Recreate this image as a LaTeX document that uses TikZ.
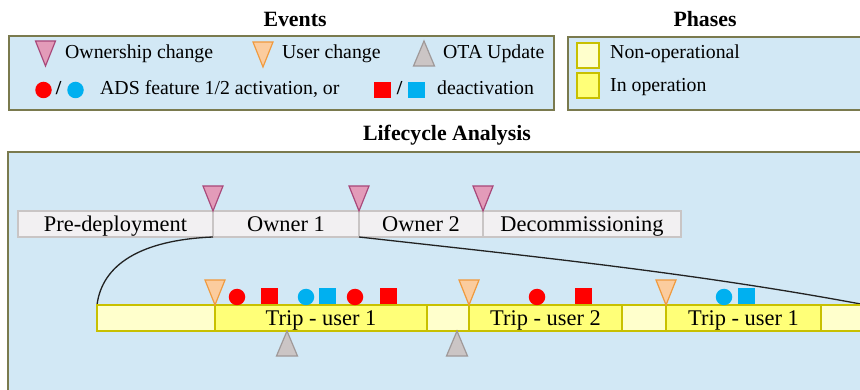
\documentclass[tikz,border=0pt]{standalone}
\usepackage{fontspec}
\setmainfont{Liberation Serif}
\usetikzlibrary{calc}

\definecolor{panelbg}{HTML}{D2E8F5}
\definecolor{panelrule}{HTML}{7A7A4E}
\definecolor{stagefill}{HTML}{F2F0F2}
\definecolor{stagerule}{HTML}{C9C5C5}
\definecolor{tripfill}{HTML}{FFFF78}
\definecolor{idlefill}{HTML}{FFFFCC}
\definecolor{phaserule}{HTML}{C8C000}
\definecolor{ownfill}{HTML}{E39BB9}
\definecolor{ownrule}{HTML}{A8487A}
\definecolor{userfill}{HTML}{FBCC9E}
\definecolor{userrule}{HTML}{F09A3E}
\definecolor{otafill}{HTML}{CBC5C5}
\definecolor{otarule}{HTML}{9F9999}
\definecolor{adsred}{HTML}{FF0000}
\definecolor{adsblue}{HTML}{00B0F0}
\definecolor{linkcol}{HTML}{222222}

\begin{document}
\begin{tikzpicture}[x=1pt, y=-1pt,
  panel/.style={fill=panelbg, draw=panelrule, line width=1.4pt},
  title/.style={font=\fontsize{21.8}{26}\selectfont\bfseries, anchor=base, inner sep=0},
  legendtext/.style={font=\fontsize{19.8}{24}\selectfont, anchor=base west, inner sep=0},
  slash/.style={font=\fontsize{19.8}{24}\selectfont\bfseries, anchor=base, inner sep=0},
  stagebox/.style={draw=stagerule, fill=stagefill, line width=1.5pt, anchor=north west,
    inner sep=0, outer sep=0, minimum height=26, text height=15, text depth=0,
    font=\fontsize{22.4}{26}\selectfont},
  idlebox/.style={stagebox, draw=phaserule, fill=idlefill},
  tripbox/.style={idlebox, fill=tripfill},
  keybox/.style={draw=phaserule, line width=1.8pt, anchor=north west, inner sep=0,
    outer sep=0, minimum width=22, minimum height=25},
  link/.style={draw=linkcol, line width=1.3pt},
  ownerpin/.style={fill=ownfill, draw=ownrule, line width=1.2pt},
  userpin/.style={fill=userfill, draw=userrule, line width=1.2pt},
  otapin/.style={fill=otafill, draw=otarule, line width=1.2pt},
  dotmark/.style={circle, inner sep=0, minimum size=16.5},
  boxmark/.style={rectangle, inner sep=0, minimum width=17, minimum height=16},
  reddot/.style={dotmark, fill=adsred},
  bluedot/.style={dotmark, fill=adsblue},
  redbox/.style={boxmark, fill=adsred},
  bluebox/.style={boxmark, fill=adsblue},
  downtri/.pic={\path[pic actions] (-10,-25) -- (10,-25) -- (0,0) -- cycle;},
  uptri/.pic={\path[pic actions] (-10.5,25) -- (10.5,25) -- (0,0) -- cycle;}
]
\clip (0,0) rectangle (860,390);
\fill[white] (0,0) rectangle (860,390);

% ---------- titles ----------
\node[title] (evtitle) at (295,27) {Events};
\node[title] (phtitle) at (705,27) {Phases};
\node[title] (lctitle) at (447,141) {Lifecycle Analysis};

% ---------- panels ----------
\draw[panel] (9,36) rectangle (554,110);
\draw[panel] (568,37) rectangle (880,110);
\draw[panel] (8,152) rectangle (880,400);

% ---------- events legend ----------
\pic[ownerpin] at (45.5,66) {downtri};
\node[legendtext] (lgown) at (65,59) {Ownership change};
\pic[userpin] at (263,67) {downtri};
\node[legendtext] (lguser) at (282,59) {User change};
\pic[otapin] at (424,41) {uptri};
\node[legendtext] (lgota) at (443,59) {OTA Update};

\node[reddot] (lgon1) at (43.5,90) {};
\node[slash] (lgsl1) at (58.5,95) {/};
\node[bluedot] (lgon2) at (75.5,90) {};
\node[legendtext] (lgon) at (100,95) {ADS feature 1/2 activation, or};
\node[redbox] (lgoff1) at (382,90) {};
\node[slash] (lgsl2) at (399.5,95) {/};
\node[bluebox] (lgoff2) at (416.5,90) {};
\node[legendtext] (lgoff) at (437,95) {deactivation};

% ---------- phases legend ----------
\node[keybox, fill=idlefill] (keyidle) at (577,43) {};
\node[legendtext] (lgidle) at (610,59) {Non-operational};
\node[keybox, fill=tripfill] (keytrip) at (577,73) {};
\node[legendtext] (lgtrip) at (610,92) {In operation};

% ---------- lifecycle stages ----------
\node[stagebox, minimum width=195] (s1) at (18,211) {Pre-deployment};
\node[stagebox, minimum width=146] (s2) at (s1.north east) {Owner 1};
\node[stagebox, minimum width=124] (s3) at (s2.north east) {Owner 2};
\node[stagebox, minimum width=198] (s4) at (s3.north east) {Decommissioning};

% ---------- zoom of the first ownership period ----------
\draw[link] (s2.south west) .. controls (140,240) and (102,265) .. (97,305) coordinate (zl);
\draw[link] (s2.south east) .. controls (529,256) and (696,273) .. (866,305) coordinate (zr);

\node[idlebox, minimum width=118] (b1) at (zl) {};
\node[tripbox, minimum width=212] (b2) at (b1.north east) {Trip - user 1};
\node[idlebox, minimum width=42]  (b3) at (b2.north east) {};
\node[tripbox, minimum width=153] (b4) at (b3.north east) {Trip - user 2};
\node[idlebox, minimum width=44]  (b5) at (b4.north east) {};
\node[tripbox, minimum width=155] (b6) at (b5.north east) {Trip - user 1};
\node[idlebox, minimum width=45]  (b7) at (b6.north east) {};

% ---------- ownership changes ----------
\pic[ownerpin] at (s2.north west) {downtri};
\pic[ownerpin] at (s3.north west) {downtri};
\pic[ownerpin] at (s4.north west) {downtri};

% ---------- user changes ----------
\pic[userpin] at (b2.north west) {downtri};
\pic[userpin] at (b4.north west) {downtri};
\pic[userpin] at (b6.north west) {downtri};

% ---------- OTA updates ----------
\pic[otapin] at ($(b2.south west)+(72,0)$) {uptri};
\pic[otapin] at ($(b3.south east)+(-12,0)$) {uptri};

% ---------- ADS feature activations / deactivations ----------
\node[reddot]  (e1)  at (237,297) {};
\node[redbox]  (e2)  at (269,296) {};
\node[bluedot] (e3)  at (306,297) {};
\node[bluebox] (e4)  at (327,296) {};
\node[reddot]  (e5)  at (355,297) {};
\node[redbox]  (e6)  at (388,296) {};
\node[reddot]  (e7)  at (537,297) {};
\node[redbox]  (e8)  at (583,296) {};
\node[bluedot] (e9)  at (724,297) {};
\node[bluebox] (e10) at (746,296) {};
\end{tikzpicture}
\end{document}
